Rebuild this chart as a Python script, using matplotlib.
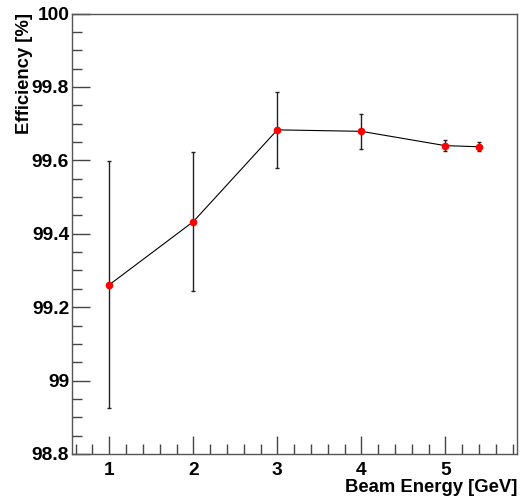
import matplotlib.pyplot as plt
from matplotlib.ticker import MultipleLocator, FormatStrFormatter

plt.rcParams.update({
    "font.family": "Liberation Sans",
    "font.weight": "bold",
    "font.size": 14,
})

energy = [1, 2, 3, 4, 5, 5.4]
efficiency = [99.261, 99.433, 99.683, 99.679, 99.640, 99.637]
err = [0.336, 0.190, 0.104, 0.047, 0.015, 0.012]

fig = plt.figure(figsize=(5.24, 4.97), dpi=100)
ax = fig.add_axes([72 / 524, 1 - 454 / 497, 445 / 524, 440.5 / 497])

ax.errorbar(energy, efficiency, yerr=err, fmt='-', color='black', lw=0.8,
            elinewidth=1.0, ecolor='#222222', capsize=1.5, capthick=1.0,
            zorder=2)
ax.plot(energy, efficiency, 'o', color='red', markersize=4.5, zorder=3)

ax.set_xlim(0.556, 5.853)
ax.set_ylim(98.8, 100)

ax.xaxis.set_major_locator(MultipleLocator(1))
ax.xaxis.set_minor_locator(MultipleLocator(0.2))
ax.yaxis.set_major_locator(MultipleLocator(0.2))
ax.yaxis.set_minor_locator(MultipleLocator(0.05))
ax.yaxis.set_major_formatter(FormatStrFormatter('%g'))
ax.xaxis.set_major_formatter(FormatStrFormatter('%g'))

ax.tick_params(which='both', direction='in', top=False, right=False,
               color='#444444', labelsize=13.8)
ax.tick_params(which='major', length=13, width=1)
ax.tick_params(which='minor', length=7, width=1)
ax.tick_params(axis='x', pad=5.5)
ax.tick_params(axis='y', pad=2)
for s in ax.spines.values():
    s.set_color('#555555')
    s.set_linewidth(1.0)

ax.set_xlabel("Beam Energy [GeV]", fontsize=13.3, fontweight='bold')
ax.xaxis.set_label_coords(1.0, -0.056)
ax.xaxis.label.set_horizontalalignment('right')
ax.set_ylabel("Efficiency [%]", fontsize=13.3, fontweight='bold')
ax.yaxis.set_label_coords(-0.088, 1.0)
ax.yaxis.label.set_horizontalalignment('right')

fig.savefig("out.png", dpi=100)
